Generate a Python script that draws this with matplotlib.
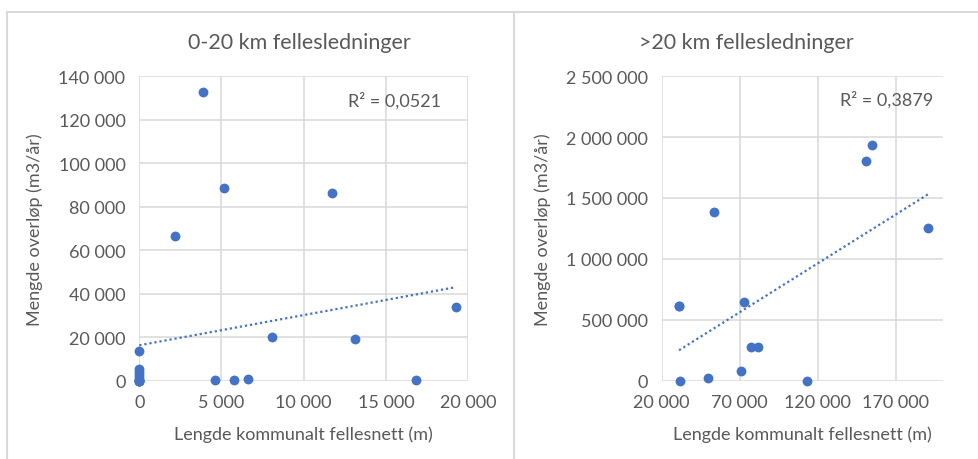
import matplotlib
matplotlib.use("Agg")
import matplotlib.pyplot as plt
import matplotlib.ticker as mticker
from matplotlib.lines import Line2D
import numpy as np

# ---- data: 0-20 km fellesledninger (several overlapping points at x=0) ----
x_small = [0, 0, 0, 0, 0, 0, 0, 0, 0, 0, 2200, 3900, 4600, 5150, 5770, 6620,
           8100, 11730, 13150, 16860, 19250]
y_small = [13800, 5200, 3800, 2500, 1200, 300, 0, 0, 0, 0, 66700, 132750, 150,
           88600, 150, 770, 20100, 86500, 19000, 460, 33700]
r2_small = "R² = 0,0521"

# ---- data: >20 km fellesledninger (first point assumed doubled/overlapping) ----
x_large = [31090, 31090, 31500, 49700, 53700, 70800, 72700, 77400, 81900, 113300,
           150960, 154800, 190500]
y_large = [614750, 614750, 0, 22000, 1385000, 79500, 641800, 273000, 273000, 0,
           1805700, 1937000, 1251600]
r2_large = "R² = 0,3879"

titles = ["0-20 km fellesledninger", ">20 km fellesledninger"]
xlabel = "Lengde kommunalt fellesnett (m)"
ylabel = "Mengde overløp (m3/år)"

BLUE = "#4472C4"
TXT = "#595959"
GRID = "#D9D9D9"

plt.rcParams['font.family'] = ['Lato', 'DejaVu Sans']

fig = plt.figure(figsize=(9.79, 4.6), dpi=100)

def fmt(v, pos):
    return f"{int(round(v)):,}".replace(",", " ")

W, H = 979.0, 460.0

def add_ax(x0, x1, ytop, ybot):
    return fig.add_axes([x0 / W, (H - ybot) / H, (x1 - x0) / W, (ybot - ytop) / H])

ax1 = add_ax(139.3, 468.0, 77.3, 381.5)
ax2 = add_ax(661.7, 942.7, 77.3, 381.5)

def style(ax, xs, ys, xlim, ylim, xstep, ystep, r2, r2pos):
    ax.set_xticks(np.arange(xlim[0], xlim[1] + 1, xstep))
    ax.set_yticks(np.arange(ylim[0], ylim[1] + 1, ystep))
    ax.set_xlim(*xlim)
    ax.set_ylim(*ylim)
    ax.xaxis.set_major_formatter(mticker.FuncFormatter(fmt))
    ax.yaxis.set_major_formatter(mticker.FuncFormatter(fmt))
    ax.grid(True, color=GRID, lw=1.1, zorder=0)
    ax.set_axisbelow(True)
    for s in ax.spines.values():
        s.set_visible(False)
    ax.tick_params(length=0, labelsize=13, colors=TXT, pad=10)
    ax.scatter(xs, ys, s=50, color=BLUE, zorder=3, linewidths=0, clip_on=False)
    b, a = np.polyfit(xs, ys, 1)
    xx = np.array([min(xs), max(xs)])
    ax.plot(xx, a + b * xx, ls=(0, (1, 1.3)), color=BLUE, lw=1.6, zorder=2)
    ax.text(r2pos[0], r2pos[1], r2, transform=ax.transAxes, fontsize=13,
            color=TXT, ha="left", va="center")
    ax.set_xlabel(xlabel, fontsize=13, color=TXT, labelpad=11)
    ax.set_ylabel(ylabel, fontsize=13, color=TXT, labelpad=11)

style(ax1, x_small, y_small, (0, 20000), (0, 140000), 5000, 20000, r2_small,
      ((348 - 139.3) / 328.7, (381.7 - 101) / 304.4))
style(ax2, x_large, y_large, (20000, 200000), (0, 2500000), 50000, 500000, r2_large,
      ((840 - 661.7) / 281.0, (381.7 - 100) / 304.4))

fig.text(299 / W, (H - 43) / H, titles[0], fontsize=15.5, color=TXT,
         ha="center", va="center")
fig.text(746 / W, (H - 43) / H, titles[1], fontsize=15.5, color=TXT,
         ha="center", va="center")

# panel frames
for (xa, ya, xb, yb) in [(7, 13, 979, 13), (7, 13, 7, 460), (514, 13, 514, 460)]:
    fig.add_artist(Line2D([xa / W, xb / W], [(H - ya) / H, (H - yb) / H],
                          color="#D9D9D9", lw=1.5, transform=fig.transFigure))

fig.savefig("out.png", dpi=100, facecolor="white")
